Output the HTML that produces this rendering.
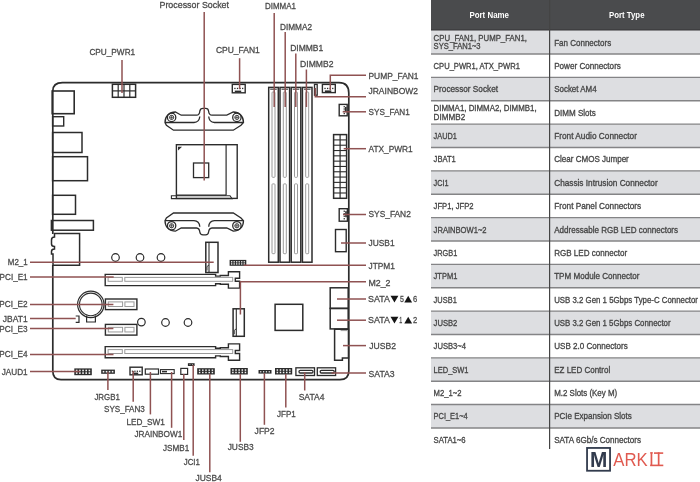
<!DOCTYPE html>
<html><head><meta charset="utf-8"><style>
html,body{margin:0;padding:0;background:#fff;}
body{width:700px;height:482px;overflow:hidden;}
svg{display:block;font-family:"Liberation Sans",sans-serif;will-change:transform;}
</style></head><body>
<svg width="700" height="482" viewBox="0 0 700 482">
<rect width="700" height="482" fill="#fff"/>
<rect x="431.0" y="0" width="269.0" height="30.65" fill="#4a4b4d"/>
<rect x="431.0" y="29.2" width="269.0" height="1.4" fill="#3d3d3f"/>
<rect x="431.0" y="30.65" width="269.0" height="23.37" fill="#dddee1"/>
<text x="433.6" y="40.68" font-size="8.9" fill="#464646" stroke="#464646" stroke-width="0.32" textLength="93.3" lengthAdjust="spacingAndGlyphs">CPU_FAN1, PUMP_FAN1,</text>
<text x="433.6" y="49.48" font-size="8.9" fill="#464646" stroke="#464646" stroke-width="0.32" textLength="47" lengthAdjust="spacingAndGlyphs">SYS_FAN1~3</text>
<text x="554.2" y="45.53" font-size="8.9" fill="#464646" stroke="#464646" stroke-width="0.32" textLength="57" lengthAdjust="spacingAndGlyphs">Fan Connectors</text>
<text x="433.6" y="68.91" font-size="8.9" fill="#464646" stroke="#464646" stroke-width="0.32" textLength="86.4" lengthAdjust="spacingAndGlyphs">CPU_PWR1, ATX_PWR1</text>
<text x="554.2" y="68.91" font-size="8.9" fill="#464646" stroke="#464646" stroke-width="0.32" textLength="66.7" lengthAdjust="spacingAndGlyphs">Power Connectors</text>
<rect x="431.0" y="77.39" width="269.0" height="23.37" fill="#dddee1"/>
<text x="433.6" y="92.28" font-size="8.9" fill="#464646" stroke="#464646" stroke-width="0.32" textLength="64.4" lengthAdjust="spacingAndGlyphs">Processor Socket</text>
<text x="554.2" y="92.28" font-size="8.9" fill="#464646" stroke="#464646" stroke-width="0.32" textLength="42.4" lengthAdjust="spacingAndGlyphs">Socket AM4</text>
<text x="433.6" y="110.79" font-size="8.9" fill="#464646" stroke="#464646" stroke-width="0.32" textLength="103" lengthAdjust="spacingAndGlyphs">DIMMA1, DIMMA2, DIMMB1,</text>
<text x="433.6" y="119.59" font-size="8.9" fill="#464646" stroke="#464646" stroke-width="0.32" textLength="31.6" lengthAdjust="spacingAndGlyphs">DIMMB2</text>
<text x="554.2" y="115.64" font-size="8.9" fill="#464646" stroke="#464646" stroke-width="0.32" textLength="41.6" lengthAdjust="spacingAndGlyphs">DIMM Slots</text>
<rect x="431.0" y="124.13" width="269.0" height="23.37" fill="#dddee1"/>
<text x="433.6" y="139.01" font-size="8.9" fill="#464646" stroke="#464646" stroke-width="0.32" textLength="23.3" lengthAdjust="spacingAndGlyphs">JAUD1</text>
<text x="554.2" y="139.01" font-size="8.9" fill="#464646" stroke="#464646" stroke-width="0.32" textLength="82.8" lengthAdjust="spacingAndGlyphs">Front Audio Connector</text>
<text x="433.6" y="162.38" font-size="8.9" fill="#464646" stroke="#464646" stroke-width="0.32" textLength="22.2" lengthAdjust="spacingAndGlyphs">JBAT1</text>
<text x="554.2" y="162.38" font-size="8.9" fill="#464646" stroke="#464646" stroke-width="0.32" textLength="74.6" lengthAdjust="spacingAndGlyphs">Clear CMOS Jumper</text>
<rect x="431.0" y="170.87" width="269.0" height="23.37" fill="#dddee1"/>
<text x="433.6" y="185.75" font-size="8.9" fill="#464646" stroke="#464646" stroke-width="0.32" textLength="15" lengthAdjust="spacingAndGlyphs">JCI1</text>
<text x="554.2" y="185.75" font-size="8.9" fill="#464646" stroke="#464646" stroke-width="0.32" textLength="103.5" lengthAdjust="spacingAndGlyphs">Chassis Intrusion Connector</text>
<text x="433.6" y="209.12" font-size="8.9" fill="#464646" stroke="#464646" stroke-width="0.32" textLength="39.9" lengthAdjust="spacingAndGlyphs">JFP1, JFP2</text>
<text x="554.2" y="209.12" font-size="8.9" fill="#464646" stroke="#464646" stroke-width="0.32" textLength="87" lengthAdjust="spacingAndGlyphs">Front Panel Connectors</text>
<rect x="431.0" y="217.61" width="269.0" height="23.37" fill="#dddee1"/>
<text x="433.6" y="232.50" font-size="8.9" fill="#464646" stroke="#464646" stroke-width="0.32" textLength="53" lengthAdjust="spacingAndGlyphs">JRAINBOW1~2</text>
<text x="554.2" y="232.50" font-size="8.9" fill="#464646" stroke="#464646" stroke-width="0.32" textLength="123.9" lengthAdjust="spacingAndGlyphs">Addressable RGB LED connectors</text>
<text x="433.6" y="255.87" font-size="8.9" fill="#464646" stroke="#464646" stroke-width="0.32" textLength="23.7" lengthAdjust="spacingAndGlyphs">JRGB1</text>
<text x="554.2" y="255.87" font-size="8.9" fill="#464646" stroke="#464646" stroke-width="0.32" textLength="72.9" lengthAdjust="spacingAndGlyphs">RGB LED connector</text>
<rect x="431.0" y="264.35" width="269.0" height="23.37" fill="#dddee1"/>
<text x="433.6" y="279.24" font-size="8.9" fill="#464646" stroke="#464646" stroke-width="0.32" textLength="23.7" lengthAdjust="spacingAndGlyphs">JTPM1</text>
<text x="554.2" y="279.24" font-size="8.9" fill="#464646" stroke="#464646" stroke-width="0.32" textLength="85.3" lengthAdjust="spacingAndGlyphs">TPM Module Connector</text>
<text x="433.6" y="302.60" font-size="8.9" fill="#464646" stroke="#464646" stroke-width="0.32" textLength="23.2" lengthAdjust="spacingAndGlyphs">JUSB1</text>
<text x="554.2" y="302.60" font-size="8.9" fill="#464646" stroke="#464646" stroke-width="0.32" textLength="143.8" lengthAdjust="spacingAndGlyphs">USB 3.2 Gen 1 5Gbps Type-C Connector</text>
<rect x="431.0" y="311.09" width="269.0" height="23.37" fill="#dddee1"/>
<text x="433.6" y="325.97" font-size="8.9" fill="#464646" stroke="#464646" stroke-width="0.32" textLength="23.7" lengthAdjust="spacingAndGlyphs">JUSB2</text>
<text x="554.2" y="325.97" font-size="8.9" fill="#464646" stroke="#464646" stroke-width="0.32" textLength="116.4" lengthAdjust="spacingAndGlyphs">USB 3.2 Gen 1 5Gbps Connector</text>
<text x="433.6" y="349.34" font-size="8.9" fill="#464646" stroke="#464646" stroke-width="0.32" textLength="32.4" lengthAdjust="spacingAndGlyphs">JUSB3~4</text>
<text x="554.2" y="349.34" font-size="8.9" fill="#464646" stroke="#464646" stroke-width="0.32" textLength="73.6" lengthAdjust="spacingAndGlyphs">USB 2.0 Connectors</text>
<rect x="431.0" y="357.83" width="269.0" height="23.37" fill="#dddee1"/>
<text x="433.6" y="372.71" font-size="8.9" fill="#464646" stroke="#464646" stroke-width="0.32" textLength="34.9" lengthAdjust="spacingAndGlyphs">LED_SW1</text>
<text x="554.2" y="372.71" font-size="8.9" fill="#464646" stroke="#464646" stroke-width="0.32" textLength="56" lengthAdjust="spacingAndGlyphs">EZ LED Control</text>
<text x="433.6" y="396.08" font-size="8.9" fill="#464646" stroke="#464646" stroke-width="0.32" textLength="27.9" lengthAdjust="spacingAndGlyphs">M2_1~2</text>
<text x="554.2" y="396.08" font-size="8.9" fill="#464646" stroke="#464646" stroke-width="0.32" textLength="63" lengthAdjust="spacingAndGlyphs">M.2 Slots (Key M)</text>
<rect x="431.0" y="404.57" width="269.0" height="23.37" fill="#dddee1"/>
<text x="433.6" y="419.45" font-size="8.9" fill="#464646" stroke="#464646" stroke-width="0.32" textLength="34.1" lengthAdjust="spacingAndGlyphs">PCI_E1~4</text>
<text x="554.2" y="419.45" font-size="8.9" fill="#464646" stroke="#464646" stroke-width="0.32" textLength="77.6" lengthAdjust="spacingAndGlyphs">PCIe Expansion Slots</text>
<text x="433.6" y="442.82" font-size="8.9" fill="#464646" stroke="#464646" stroke-width="0.32" textLength="32" lengthAdjust="spacingAndGlyphs">SATA1~6</text>
<text x="554.2" y="442.82" font-size="8.9" fill="#464646" stroke="#464646" stroke-width="0.32" textLength="86.9" lengthAdjust="spacingAndGlyphs">SATA 6Gb/s Connectors</text>
<line x1="431.0" y1="54.02" x2="700.0" y2="54.02" stroke="#848486" stroke-width="1.4"/>
<line x1="431.0" y1="77.39" x2="700.0" y2="77.39" stroke="#848486" stroke-width="1.4"/>
<line x1="431.0" y1="100.76" x2="700.0" y2="100.76" stroke="#848486" stroke-width="1.4"/>
<line x1="431.0" y1="124.13" x2="700.0" y2="124.13" stroke="#848486" stroke-width="1.4"/>
<line x1="431.0" y1="147.50" x2="700.0" y2="147.50" stroke="#848486" stroke-width="1.4"/>
<line x1="431.0" y1="170.87" x2="700.0" y2="170.87" stroke="#848486" stroke-width="1.4"/>
<line x1="431.0" y1="194.24" x2="700.0" y2="194.24" stroke="#848486" stroke-width="1.4"/>
<line x1="431.0" y1="217.61" x2="700.0" y2="217.61" stroke="#848486" stroke-width="1.4"/>
<line x1="431.0" y1="240.98" x2="700.0" y2="240.98" stroke="#848486" stroke-width="1.4"/>
<line x1="431.0" y1="264.35" x2="700.0" y2="264.35" stroke="#848486" stroke-width="1.4"/>
<line x1="431.0" y1="287.72" x2="700.0" y2="287.72" stroke="#848486" stroke-width="1.4"/>
<line x1="431.0" y1="311.09" x2="700.0" y2="311.09" stroke="#848486" stroke-width="1.4"/>
<line x1="431.0" y1="334.46" x2="700.0" y2="334.46" stroke="#848486" stroke-width="1.4"/>
<line x1="431.0" y1="357.83" x2="700.0" y2="357.83" stroke="#848486" stroke-width="1.4"/>
<line x1="431.0" y1="381.20" x2="700.0" y2="381.20" stroke="#848486" stroke-width="1.4"/>
<line x1="431.0" y1="404.57" x2="700.0" y2="404.57" stroke="#848486" stroke-width="1.4"/>
<line x1="431.0" y1="427.94" x2="700.0" y2="427.94" stroke="#848486" stroke-width="1.4"/>
<line x1="549.6" y1="0" x2="549.6" y2="448.9" stroke="#444" stroke-width="1.2"/>
<text x="469.4" y="17.7" font-size="9.4" font-weight="bold" fill="#fff" textLength="39.6" lengthAdjust="spacingAndGlyphs">Port Name</text>
<text x="609" y="17.7" font-size="9.4" font-weight="bold" fill="#fff" textLength="35.5" lengthAdjust="spacingAndGlyphs">Port Type</text>
<rect x="587.05" y="447.95" width="23" height="22.8" fill="none" stroke="#323b4d" stroke-width="1.8"/>
<text x="589.9" y="467.1" font-size="22" font-weight="bold" fill="#323b4d" textLength="17.3" lengthAdjust="spacingAndGlyphs">M</text>
<text x="613.3" y="465.6" font-size="18.5" fill="#e05a50" textLength="34.4" lengthAdjust="spacingAndGlyphs">ARK</text>
<g fill="#e05a50"><rect x="650.6" y="452.3" width="1.7" height="12.8"/><rect x="650.1" y="452.3" width="2.8" height="1.2"/><rect x="654" y="452.3" width="9.2" height="1.6"/><rect x="657.8" y="452.3" width="1.7" height="12.8"/><rect x="650.1" y="464.6" width="13.2" height="1.6"/></g>
<path d="M52.8,91 Q52.8,82.6 62.5,82.6 L339,82.6 Q348.8,82.6 348.8,93 L348.8,371 Q348.8,379.7 340,379.7 L61,379.7 Q52.8,379.7 52.8,371 L52.8,265" fill="none" stroke="#2c2c2c" stroke-width="1.7"/>
<line x1="52.8" y1="91" x2="52.8" y2="234" stroke="#2c2c2c" stroke-width="1.7"/>
<rect x="52.20" y="91.00" width="22.00" height="22.70" fill="none" stroke="#2c2c2c" stroke-width="1.6"/>
<rect x="52.60" y="116.70" width="11.10" height="9.30" fill="none" stroke="#2c2c2c" stroke-width="1.4"/>
<rect x="52.60" y="132.50" width="29.40" height="20.00" fill="none" stroke="#2c2c2c" stroke-width="1.5"/>
<rect x="52.60" y="156.70" width="34.90" height="24.00" fill="none" stroke="#2c2c2c" stroke-width="1.5"/>
<rect x="52.60" y="195.30" width="22.90" height="19.00" fill="none" stroke="#2c2c2c" stroke-width="1.5"/>
<rect x="51.40" y="220.50" width="42.00" height="9.70" fill="none" stroke="#2c2c2c" stroke-width="1.5"/>
<path d="M79.6,233.4 L54.5,233.4 L54.5,237 Q51.5,237 51.5,240 L51.5,244 Q51.5,246.5 54.5,246.5 L54.5,249 Q51.5,249 51.5,251.5 L51.5,254 L53,254 L53,265.3 L79.6,265.3 Z" fill="none" stroke="#2c2c2c" stroke-width="1.5"/>
<rect x="112.40" y="84.30" width="23.20" height="13.00" fill="none" stroke="#2c2c2c" stroke-width="1.5"/>
<line x1="118.2" y1="84.3" x2="118.2" y2="97.3" stroke="#2c2c2c" stroke-width="1.2"/>
<line x1="124.0" y1="84.3" x2="124.0" y2="97.3" stroke="#2c2c2c" stroke-width="1.2"/>
<line x1="129.8" y1="84.3" x2="129.8" y2="97.3" stroke="#2c2c2c" stroke-width="1.2"/>
<line x1="112.4" y1="90.9" x2="135.6" y2="90.9" stroke="#2c2c2c" stroke-width="1.2"/>
<g fill="none" stroke="#2c2c2c" stroke-width="1.3"><path d="M165,122.5 C165,116 169.5,112 175.4,112 L181.2,115.2 L196.5,115.2 Q199.5,115 199.8,111.2 Q200.2,108.4 203,108.4 L205.6,108.4 Q208.3,108.4 208.6,111.2 Q209,115 212,115.2 L226.8,115.2 L233.3,112 C239,112 243.5,116 243.5,122.5 L241,125.2 L233.3,130.2 L173.5,130.2 L166.4,125.2 Z M165,122.5 L194,122.5 Q199.3,122.3 199.8,116.5 M243.5,122.5 L214.4,122.5 Q209.2,122.3 208.7,116.5"/><circle cx="171.6" cy="117.4" r="4.2"/><circle cx="171.6" cy="117.4" r="2.1" stroke-width="0.9"/><path d="M169.5,117.4 H173.7 M171.6,115.3 V119.5" stroke-width="0.7"/><circle cx="236.9" cy="117.4" r="4.2"/><circle cx="236.9" cy="117.4" r="2.1" stroke-width="0.9"/><path d="M234.8,117.4 H239 M236.9,115.3 V119.5" stroke-width="0.7"/></g>
<g transform="translate(0,343.2) scale(1,-1)" fill="none" stroke="#2c2c2c" stroke-width="1.3"><path d="M165,122.5 C165,116 169.5,112 175.4,112 L181.2,115.2 L196.5,115.2 Q199.5,115 199.8,111.2 Q200.2,108.4 203,108.4 L205.6,108.4 Q208.3,108.4 208.6,111.2 Q209,115 212,115.2 L226.8,115.2 L233.3,112 C239,112 243.5,116 243.5,122.5 L241,125.2 L233.3,130.2 L173.5,130.2 L166.4,125.2 Z M165,122.5 L194,122.5 Q199.3,122.3 199.8,116.5 M243.5,122.5 L214.4,122.5 Q209.2,122.3 208.7,116.5"/><circle cx="171.6" cy="117.4" r="4.2"/><circle cx="171.6" cy="117.4" r="2.1" stroke-width="0.9"/><path d="M169.5,117.4 H173.7 M171.6,115.3 V119.5" stroke-width="0.7"/><circle cx="236.9" cy="117.4" r="4.2"/><circle cx="236.9" cy="117.4" r="2.1" stroke-width="0.9"/><path d="M234.8,117.4 H239 M236.9,115.3 V119.5" stroke-width="0.7"/></g>
<rect x="176.40" y="144.70" width="60.80" height="53.70" fill="none" stroke="#2c2c2c" stroke-width="1.4"/>
<line x1="226.1" y1="144.7" x2="226.1" y2="195.2" stroke="#2c2c2c" stroke-width="1.2"/>
<line x1="176.4" y1="195.2" x2="226.1" y2="195.2" stroke="#2c2c2c" stroke-width="1.2"/>
<path d="M171.4,195.8 L230,195.8 L232,198.6 L171.4,198.6 Z" fill="none" stroke="#2c2c2c" stroke-width="1.1"/>
<path d="M178,146.8 L182,146.8 L178,150.6 Z" fill="#2c2c2c"/>
<rect x="193.50" y="163.00" width="15.20" height="14.60" fill="none" stroke="#2c2c2c" stroke-width="1.3"/>
<rect x="232.30" y="84.40" width="12.90" height="8.40" fill="none" stroke="#2c2c2c" stroke-width="1.4"/>
<rect x="234.28" y="87.80" width="1.3" height="1.3" fill="#2c2c2c"/>
<rect x="236.86" y="87.80" width="1.3" height="1.3" fill="#2c2c2c"/>
<rect x="239.44" y="87.80" width="1.3" height="1.3" fill="#2c2c2c"/>
<rect x="242.02" y="87.80" width="1.3" height="1.3" fill="#2c2c2c"/>
<rect x="234.80" y="90.60" width="6.40" height="1.6" fill="#2c2c2c"/>
<rect x="322.40" y="84.40" width="12.90" height="8.20" fill="none" stroke="#2c2c2c" stroke-width="1.4"/>
<rect x="324.38" y="87.80" width="1.3" height="1.3" fill="#2c2c2c"/>
<rect x="326.96" y="87.80" width="1.3" height="1.3" fill="#2c2c2c"/>
<rect x="329.54" y="87.80" width="1.3" height="1.3" fill="#2c2c2c"/>
<rect x="332.12" y="87.80" width="1.3" height="1.3" fill="#2c2c2c"/>
<rect x="324.90" y="90.40" width="6.40" height="1.6" fill="#2c2c2c"/>
<rect x="339.20" y="104.40" width="8.00" height="11.40" fill="none" stroke="#2c2c2c" stroke-width="1.4"/>
<rect x="343.60" y="106.08" width="1.3" height="1.3" fill="#2c2c2c"/>
<rect x="343.60" y="108.36" width="1.3" height="1.3" fill="#2c2c2c"/>
<rect x="343.60" y="110.64" width="1.3" height="1.3" fill="#2c2c2c"/>
<rect x="343.60" y="112.92" width="1.3" height="1.3" fill="#2c2c2c"/>
<rect x="345.00" y="106.90" width="1.6" height="4.90" fill="#2c2c2c"/>
<rect x="339.20" y="208.70" width="8.20" height="12.50" fill="none" stroke="#2c2c2c" stroke-width="1.4"/>
<rect x="343.60" y="210.60" width="1.3" height="1.3" fill="#2c2c2c"/>
<rect x="343.60" y="213.10" width="1.3" height="1.3" fill="#2c2c2c"/>
<rect x="343.60" y="215.60" width="1.3" height="1.3" fill="#2c2c2c"/>
<rect x="343.60" y="218.10" width="1.3" height="1.3" fill="#2c2c2c"/>
<rect x="345.20" y="211.20" width="1.6" height="6.00" fill="#2c2c2c"/>
<rect x="314.50" y="84.40" width="2.70" height="10.80" fill="none" stroke="#2c2c2c" stroke-width="1.3"/>
<rect x="268.70" y="87.40" width="9.60" height="174.80" fill="none" stroke="#2c2c2c" stroke-width="1.5"/>
<rect x="272.00" y="92" width="3.00" height="85.3" rx="0.8" fill="none" stroke="#9a9a9a" stroke-width="1.0"/>
<rect x="272.00" y="183.9" width="3.00" height="69.8" rx="0.8" fill="none" stroke="#9a9a9a" stroke-width="1.0"/>
<line x1="270.2" y1="89.2" x2="276.8" y2="89.2" stroke="#2c2c2c" stroke-width="1.0"/>
<rect x="280.00" y="87.40" width="9.60" height="174.80" fill="none" stroke="#2c2c2c" stroke-width="1.5"/>
<rect x="283.30" y="92" width="3.00" height="85.3" rx="0.8" fill="none" stroke="#9a9a9a" stroke-width="1.0"/>
<rect x="283.30" y="183.9" width="3.00" height="69.8" rx="0.8" fill="none" stroke="#9a9a9a" stroke-width="1.0"/>
<line x1="281.5" y1="89.2" x2="288.1" y2="89.2" stroke="#2c2c2c" stroke-width="1.0"/>
<rect x="291.20" y="87.40" width="9.60" height="174.80" fill="none" stroke="#2c2c2c" stroke-width="1.5"/>
<rect x="294.50" y="92" width="3.00" height="85.3" rx="0.8" fill="none" stroke="#9a9a9a" stroke-width="1.0"/>
<rect x="294.50" y="183.9" width="3.00" height="69.8" rx="0.8" fill="none" stroke="#9a9a9a" stroke-width="1.0"/>
<line x1="292.7" y1="89.2" x2="299.3" y2="89.2" stroke="#2c2c2c" stroke-width="1.0"/>
<rect x="302.40" y="87.40" width="9.60" height="174.80" fill="none" stroke="#2c2c2c" stroke-width="1.5"/>
<rect x="305.70" y="92" width="3.00" height="85.3" rx="0.8" fill="none" stroke="#9a9a9a" stroke-width="1.0"/>
<rect x="305.70" y="183.9" width="3.00" height="69.8" rx="0.8" fill="none" stroke="#9a9a9a" stroke-width="1.0"/>
<line x1="303.9" y1="89.2" x2="310.5" y2="89.2" stroke="#2c2c2c" stroke-width="1.0"/>
<rect x="333.60" y="134.60" width="13.00" height="63.70" fill="none" stroke="#2c2c2c" stroke-width="1.5"/>
<line x1="340.1" y1="134.6" x2="340.1" y2="198.3" stroke="#2c2c2c" stroke-width="1.2"/>
<line x1="333.6" y1="139.90833333333333" x2="346.6" y2="139.90833333333333" stroke="#2c2c2c" stroke-width="1.1"/>
<line x1="333.6" y1="145.21666666666667" x2="346.6" y2="145.21666666666667" stroke="#2c2c2c" stroke-width="1.1"/>
<line x1="333.6" y1="150.525" x2="346.6" y2="150.525" stroke="#2c2c2c" stroke-width="1.1"/>
<line x1="333.6" y1="155.83333333333334" x2="346.6" y2="155.83333333333334" stroke="#2c2c2c" stroke-width="1.1"/>
<line x1="333.6" y1="161.14166666666668" x2="346.6" y2="161.14166666666668" stroke="#2c2c2c" stroke-width="1.1"/>
<line x1="333.6" y1="166.45" x2="346.6" y2="166.45" stroke="#2c2c2c" stroke-width="1.1"/>
<line x1="333.6" y1="171.75833333333333" x2="346.6" y2="171.75833333333333" stroke="#2c2c2c" stroke-width="1.1"/>
<line x1="333.6" y1="177.06666666666666" x2="346.6" y2="177.06666666666666" stroke="#2c2c2c" stroke-width="1.1"/>
<line x1="333.6" y1="182.375" x2="346.6" y2="182.375" stroke="#2c2c2c" stroke-width="1.1"/>
<line x1="333.6" y1="187.68333333333334" x2="346.6" y2="187.68333333333334" stroke="#2c2c2c" stroke-width="1.1"/>
<line x1="333.6" y1="192.99166666666667" x2="346.6" y2="192.99166666666667" stroke="#2c2c2c" stroke-width="1.1"/>
<rect x="335.50" y="229.50" width="10.70" height="22.20" fill="none" stroke="#2c2c2c" stroke-width="1.4"/>
<rect x="205.80" y="242.30" width="12.20" height="30.20" fill="none" stroke="#2c2c2c" stroke-width="1.5"/>
<line x1="209.0" y1="242.3" x2="209.0" y2="272.5" stroke="#2c2c2c" stroke-width="1.1"/>
<path d="M209.0,265.0 L207.0,266.5 L207.0,270.5" fill="none" stroke="#2c2c2c" stroke-width="0.9"/>
<rect x="233.10" y="308.80" width="11.20" height="27.50" fill="none" stroke="#2c2c2c" stroke-width="1.5"/>
<line x1="236.29999999999998" y1="308.8" x2="236.29999999999998" y2="336.3" stroke="#2c2c2c" stroke-width="1.1"/>
<path d="M236.29999999999998,328.8 L234.29999999999998,330.3 L234.29999999999998,334.3" fill="none" stroke="#2c2c2c" stroke-width="0.9"/>
<rect x="229.60" y="259.90" width="16.70" height="5.90" fill="#2c2c2c"/>
<rect x="230.99" y="261.11" width="1.33" height="1.33" fill="#f4f4f4"/>
<rect x="230.99" y="263.26" width="1.33" height="1.33" fill="#f4f4f4"/>
<rect x="233.51" y="261.11" width="1.33" height="1.33" fill="#f4f4f4"/>
<rect x="233.51" y="263.26" width="1.33" height="1.33" fill="#f4f4f4"/>
<rect x="236.03" y="261.11" width="1.33" height="1.33" fill="#f4f4f4"/>
<rect x="236.03" y="263.26" width="1.33" height="1.33" fill="#f4f4f4"/>
<rect x="238.54" y="261.11" width="1.33" height="1.33" fill="#f4f4f4"/>
<rect x="238.54" y="263.26" width="1.33" height="1.33" fill="#f4f4f4"/>
<rect x="241.06" y="261.11" width="1.33" height="1.33" fill="#f4f4f4"/>
<rect x="241.06" y="263.26" width="1.33" height="1.33" fill="#f4f4f4"/>
<rect x="243.58" y="261.11" width="1.33" height="1.33" fill="#f4f4f4"/>
<rect x="243.58" y="263.26" width="1.33" height="1.33" fill="#f4f4f4"/>
<path d="M105.2,274.4 L215.6,274.4 L215.6,276.1 L220.3,276.1 L220.3,275.5 L228.4,275.5 L228.4,271.7 L239.6,271.7 L239.6,278.3 L235.3,278.3 L235.3,281.3 L239.6,281.3 L239.6,288.1 L228.4,288.1 L228.4,284.3 L220.3,284.3 L220.3,283.7 L215.6,283.7 L215.6,285.6 L105.2,285.6 Z" fill="none" stroke="#2c2c2c" stroke-width="1.4"/>
<rect x="108.10" y="277.40" width="14.20" height="3.90" fill="none" stroke="#9a9a9a" stroke-width="1.0"/>
<rect x="124.80" y="277.40" width="107.90" height="3.90" fill="none" stroke="#9a9a9a" stroke-width="1.0"/>
<path d="M105.2,346.59999999999997 L215.6,346.59999999999997 L215.6,348.3 L220.3,348.3 L220.3,347.7 L228.4,347.7 L228.4,343.9 L239.6,343.9 L239.6,350.5 L235.3,350.5 L235.3,353.5 L239.6,353.5 L239.6,360.3 L228.4,360.3 L228.4,356.5 L220.3,356.5 L220.3,355.9 L215.6,355.9 L215.6,357.8 L105.2,357.8 Z" fill="none" stroke="#2c2c2c" stroke-width="1.4"/>
<rect x="108.10" y="349.60" width="14.20" height="3.90" fill="none" stroke="#9a9a9a" stroke-width="1.0"/>
<rect x="124.80" y="349.60" width="107.90" height="3.90" fill="none" stroke="#9a9a9a" stroke-width="1.0"/>
<rect x="105.40" y="299.00" width="31.50" height="10.60" fill="none" stroke="#2c2c2c" stroke-width="1.4"/>
<rect x="108.30" y="301.90" width="14.30" height="4.60" fill="none" stroke="#9a9a9a" stroke-width="1.0"/>
<rect x="124.90" y="301.90" width="9.10" height="4.60" fill="none" stroke="#9a9a9a" stroke-width="1.0"/>
<rect x="105.40" y="324.40" width="31.50" height="10.70" fill="none" stroke="#2c2c2c" stroke-width="1.4"/>
<rect x="108.30" y="327.35" width="14.30" height="4.60" fill="none" stroke="#9a9a9a" stroke-width="1.0"/>
<rect x="124.90" y="327.35" width="9.10" height="4.60" fill="none" stroke="#9a9a9a" stroke-width="1.0"/>
<circle cx="90.8" cy="304.4" r="13.2" fill="none" stroke="#2c2c2c" stroke-width="1.2"/>
<circle cx="90.8" cy="304.4" r="11.3" fill="none" stroke="#2c2c2c" stroke-width="1.1"/>
<path d="M86.6,315.5 L86.6,322 L95.4,322 L95.4,315.5" fill="none" stroke="#2c2c2c" stroke-width="1.2"/>
<path d="M75.7,316 L79,316 L79,322.4 L75.7,322.4" fill="none" stroke="#2c2c2c" stroke-width="1.2"/>
<circle cx="115.5" cy="257.5" r="3.8" fill="none" stroke="#2c2c2c" stroke-width="1.2"/>
<circle cx="140" cy="257.5" r="3.8" fill="none" stroke="#2c2c2c" stroke-width="1.2"/>
<circle cx="161" cy="257.5" r="3.8" fill="none" stroke="#2c2c2c" stroke-width="1.2"/>
<circle cx="165.5" cy="322.5" r="3.8" fill="none" stroke="#2c2c2c" stroke-width="1.2"/>
<circle cx="188" cy="322.5" r="3.8" fill="none" stroke="#2c2c2c" stroke-width="1.2"/>
<circle cx="141.4" cy="322.1" r="3.8" fill="none" stroke="#2c2c2c" stroke-width="1.2"/>
<rect x="275.10" y="304.30" width="27.70" height="26.10" fill="none" stroke="#2c2c2c" stroke-width="1.5"/>
<rect x="330.20" y="287.80" width="18.00" height="20.60" fill="none" stroke="#2c2c2c" stroke-width="1.5"/>
<rect x="330.20" y="308.40" width="18.00" height="20.50" fill="none" stroke="#2c2c2c" stroke-width="1.5"/>
<path d="M334.6,329.2 L348.5,329.2 L348.5,358 L342.4,358 L342.4,360.2 L334.6,360.2 Z" fill="none" stroke="#2c2c2c" stroke-width="1.5"/>
<line x1="340.6" y1="330.6" x2="347.5" y2="330.6" stroke="#9a9a9a" stroke-width="1.0"/>
<rect x="74.30" y="368.40" width="17.50" height="6.80" fill="#2c2c2c"/>
<rect x="75.88" y="369.69" width="1.61" height="1.61" fill="#f4f4f4"/>
<rect x="75.88" y="372.29" width="1.61" height="1.61" fill="#f4f4f4"/>
<rect x="79.06" y="369.69" width="1.61" height="1.61" fill="#f4f4f4"/>
<rect x="79.06" y="372.29" width="1.61" height="1.61" fill="#f4f4f4"/>
<rect x="82.24" y="369.69" width="1.61" height="1.61" fill="#f4f4f4"/>
<rect x="82.24" y="372.29" width="1.61" height="1.61" fill="#f4f4f4"/>
<rect x="85.42" y="369.69" width="1.61" height="1.61" fill="#f4f4f4"/>
<rect x="85.42" y="372.29" width="1.61" height="1.61" fill="#f4f4f4"/>
<rect x="88.60" y="369.69" width="1.61" height="1.61" fill="#f4f4f4"/>
<rect x="88.60" y="372.29" width="1.61" height="1.61" fill="#f4f4f4"/>
<rect x="101.20" y="369.60" width="13.70" height="4.20" fill="#2c2c2c"/>
<rect x="102.71" y="370.89" width="1.61" height="1.61" fill="#f4f4f4"/>
<rect x="105.73" y="370.89" width="1.61" height="1.61" fill="#f4f4f4"/>
<rect x="108.76" y="370.89" width="1.61" height="1.61" fill="#f4f4f4"/>
<rect x="111.78" y="370.89" width="1.61" height="1.61" fill="#f4f4f4"/>
<rect x="130.00" y="367.20" width="12.20" height="7.60" fill="none" stroke="#2c2c2c" stroke-width="1.4"/>
<rect x="131.84" y="370.60" width="1.3" height="1.3" fill="#2c2c2c"/>
<rect x="134.28" y="370.60" width="1.3" height="1.3" fill="#2c2c2c"/>
<rect x="136.72" y="370.60" width="1.3" height="1.3" fill="#2c2c2c"/>
<rect x="139.16" y="370.60" width="1.3" height="1.3" fill="#2c2c2c"/>
<rect x="132.50" y="372.60" width="5.70" height="1.6" fill="#2c2c2c"/>
<rect x="145.30" y="369.00" width="13.20" height="5.20" fill="none" stroke="#2c2c2c" stroke-width="1.2"/>
<rect x="160.50" y="369.60" width="13.70" height="4.00" fill="none" stroke="#2c2c2c" stroke-width="1.1"/>
<line x1="162" y1="371.6" x2="167" y2="371.6" stroke="#2c2c2c" stroke-width="1.6"/>
<rect x="180.80" y="368.40" width="6.80" height="6.00" fill="none" stroke="#2c2c2c" stroke-width="1.2"/>
<rect x="187.90" y="363.20" width="6.70" height="2.80" fill="#2c2c2c"/>
<rect x="189.60" y="364.23" width="0.74" height="0.74" fill="#f4f4f4"/>
<rect x="192.15" y="364.23" width="0.74" height="0.74" fill="#f4f4f4"/>
<rect x="197.20" y="368.20" width="17.60" height="6.30" fill="#2c2c2c"/>
<rect x="198.87" y="369.45" width="1.46" height="1.46" fill="#f4f4f4"/>
<rect x="198.87" y="371.80" width="1.46" height="1.46" fill="#f4f4f4"/>
<rect x="202.07" y="369.45" width="1.46" height="1.46" fill="#f4f4f4"/>
<rect x="202.07" y="371.80" width="1.46" height="1.46" fill="#f4f4f4"/>
<rect x="205.27" y="369.45" width="1.46" height="1.46" fill="#f4f4f4"/>
<rect x="205.27" y="371.80" width="1.46" height="1.46" fill="#f4f4f4"/>
<rect x="208.47" y="369.45" width="1.46" height="1.46" fill="#f4f4f4"/>
<rect x="208.47" y="371.80" width="1.46" height="1.46" fill="#f4f4f4"/>
<rect x="211.67" y="369.45" width="1.46" height="1.46" fill="#f4f4f4"/>
<rect x="211.67" y="371.80" width="1.46" height="1.46" fill="#f4f4f4"/>
<rect x="230.50" y="368.00" width="17.30" height="6.50" fill="#2c2c2c"/>
<rect x="232.11" y="369.27" width="1.52" height="1.52" fill="#f4f4f4"/>
<rect x="232.11" y="371.72" width="1.52" height="1.52" fill="#f4f4f4"/>
<rect x="235.25" y="369.27" width="1.52" height="1.52" fill="#f4f4f4"/>
<rect x="235.25" y="371.72" width="1.52" height="1.52" fill="#f4f4f4"/>
<rect x="238.39" y="369.27" width="1.52" height="1.52" fill="#f4f4f4"/>
<rect x="238.39" y="371.72" width="1.52" height="1.52" fill="#f4f4f4"/>
<rect x="241.53" y="369.27" width="1.52" height="1.52" fill="#f4f4f4"/>
<rect x="241.53" y="371.72" width="1.52" height="1.52" fill="#f4f4f4"/>
<rect x="244.67" y="369.27" width="1.52" height="1.52" fill="#f4f4f4"/>
<rect x="244.67" y="371.72" width="1.52" height="1.52" fill="#f4f4f4"/>
<rect x="258.50" y="370.00" width="13.00" height="3.60" fill="#2c2c2c"/>
<rect x="260.11" y="371.18" width="1.24" height="1.24" fill="#f4f4f4"/>
<rect x="262.95" y="371.18" width="1.24" height="1.24" fill="#f4f4f4"/>
<rect x="265.81" y="371.18" width="1.24" height="1.24" fill="#f4f4f4"/>
<rect x="268.66" y="371.18" width="1.24" height="1.24" fill="#f4f4f4"/>
<rect x="275.00" y="368.00" width="17.20" height="6.50" fill="#2c2c2c"/>
<rect x="276.60" y="369.27" width="1.52" height="1.52" fill="#f4f4f4"/>
<rect x="276.60" y="371.72" width="1.52" height="1.52" fill="#f4f4f4"/>
<rect x="279.72" y="369.27" width="1.52" height="1.52" fill="#f4f4f4"/>
<rect x="279.72" y="371.72" width="1.52" height="1.52" fill="#f4f4f4"/>
<rect x="282.84" y="369.27" width="1.52" height="1.52" fill="#f4f4f4"/>
<rect x="282.84" y="371.72" width="1.52" height="1.52" fill="#f4f4f4"/>
<rect x="285.96" y="369.27" width="1.52" height="1.52" fill="#f4f4f4"/>
<rect x="285.96" y="371.72" width="1.52" height="1.52" fill="#f4f4f4"/>
<rect x="289.08" y="369.27" width="1.52" height="1.52" fill="#f4f4f4"/>
<rect x="289.08" y="371.72" width="1.52" height="1.52" fill="#f4f4f4"/>
<rect x="295.90" y="367.80" width="18.60" height="7.70" fill="none" stroke="#2c2c2c" stroke-width="1.3"/>
<rect x="299" y="370.3" width="14" height="2.7" rx="1.2" fill="none" stroke="#2c2c2c" stroke-width="1.3"/>
<rect x="317.30" y="367.80" width="18.30" height="7.70" fill="none" stroke="#2c2c2c" stroke-width="1.3"/>
<rect x="320.2" y="370.3" width="14" height="2.7" rx="1.2" fill="none" stroke="#2c2c2c" stroke-width="1.3"/>
<line x1="122" y1="60" x2="122" y2="93" stroke="#8f5252" stroke-width="1.5"/>
<line x1="204.2" y1="12" x2="204.2" y2="180.4" stroke="#8f5252" stroke-width="1.5"/>
<line x1="239.6" y1="58.2" x2="239.6" y2="89.2" stroke="#8f5252" stroke-width="1.5"/>
<line x1="274.2" y1="13" x2="274.2" y2="107" stroke="#8f5252" stroke-width="1.5"/>
<line x1="285.2" y1="32" x2="285.2" y2="107" stroke="#8f5252" stroke-width="1.5"/>
<line x1="295.8" y1="53.5" x2="295.8" y2="107" stroke="#8f5252" stroke-width="1.5"/>
<line x1="306.4" y1="69.5" x2="306.4" y2="107" stroke="#8f5252" stroke-width="1.5"/>
<polyline points="330.3,90 330.3,75.3 366,75.3" fill="none" stroke="#8f5252" stroke-width="1.5"/>
<polyline points="315.3,88 315.3,96.7 366,96.7" fill="none" stroke="#8f5252" stroke-width="1.5"/>
<line x1="342.7" y1="111.8" x2="366" y2="111.8" stroke="#8f5252" stroke-width="1.5"/>
<line x1="343.7" y1="148.7" x2="366" y2="148.7" stroke="#8f5252" stroke-width="1.5"/>
<line x1="343" y1="214.5" x2="366" y2="214.5" stroke="#8f5252" stroke-width="1.5"/>
<line x1="341" y1="243" x2="366" y2="243" stroke="#8f5252" stroke-width="1.5"/>
<line x1="243.7" y1="265.3" x2="366" y2="265.3" stroke="#8f5252" stroke-width="1.5"/>
<polyline points="240.4,314.5 240.4,281.8 366,281.8" fill="none" stroke="#8f5252" stroke-width="1.5"/>
<line x1="337" y1="299" x2="366" y2="299" stroke="#8f5252" stroke-width="1.5"/>
<line x1="337" y1="320.2" x2="366" y2="320.2" stroke="#8f5252" stroke-width="1.5"/>
<line x1="343" y1="345.6" x2="366" y2="345.6" stroke="#8f5252" stroke-width="1.5"/>
<line x1="331.5" y1="373.1" x2="366" y2="373.1" stroke="#8f5252" stroke-width="1.5"/>
<line x1="30" y1="262.3" x2="213.7" y2="262.3" stroke="#8f5252" stroke-width="1.5"/>
<line x1="30" y1="277.1" x2="113.7" y2="277.1" stroke="#8f5252" stroke-width="1.5"/>
<line x1="30" y1="304.4" x2="113.4" y2="304.4" stroke="#8f5252" stroke-width="1.5"/>
<line x1="30" y1="318.5" x2="75.7" y2="318.5" stroke="#8f5252" stroke-width="1.5"/>
<line x1="30" y1="328.5" x2="113.4" y2="328.5" stroke="#8f5252" stroke-width="1.5"/>
<line x1="30" y1="354.5" x2="113.5" y2="354.5" stroke="#8f5252" stroke-width="1.5"/>
<line x1="30" y1="371.4" x2="80" y2="371.4" stroke="#8f5252" stroke-width="1.5"/>
<line x1="107.9" y1="372" x2="107.9" y2="390" stroke="#8f5252" stroke-width="1.5"/>
<line x1="133.2" y1="371" x2="133.2" y2="401.8" stroke="#8f5252" stroke-width="1.5"/>
<line x1="150.4" y1="372" x2="150.4" y2="414.4" stroke="#8f5252" stroke-width="1.5"/>
<line x1="171.6" y1="372" x2="171.6" y2="427.8" stroke="#8f5252" stroke-width="1.5"/>
<line x1="183.8" y1="374" x2="183.8" y2="440" stroke="#8f5252" stroke-width="1.5"/>
<line x1="193.2" y1="365" x2="193.2" y2="455.7" stroke="#8f5252" stroke-width="1.5"/>
<line x1="209.8" y1="374" x2="209.8" y2="472.2" stroke="#8f5252" stroke-width="1.5"/>
<line x1="240.3" y1="374" x2="240.3" y2="441.8" stroke="#8f5252" stroke-width="1.5"/>
<line x1="264.4" y1="373" x2="264.4" y2="424.8" stroke="#8f5252" stroke-width="1.5"/>
<line x1="285.8" y1="374" x2="285.8" y2="407.5" stroke="#8f5252" stroke-width="1.5"/>
<line x1="304.7" y1="372" x2="304.7" y2="390.5" stroke="#8f5252" stroke-width="1.5"/>
<text x="159.5" y="7.7" font-size="8.9" fill="#4a4a4a" stroke="#4a4a4a" stroke-width="0.28" font-weight="normal" text-anchor="start" textLength="69.5" lengthAdjust="spacingAndGlyphs">Processor Socket</text>
<text x="89.4" y="55.1" font-size="8.9" fill="#4a4a4a" stroke="#4a4a4a" stroke-width="0.28" font-weight="normal" text-anchor="start" textLength="45.8" lengthAdjust="spacingAndGlyphs">CPU_PWR1</text>
<text x="215.9" y="53.2" font-size="8.9" fill="#4a4a4a" stroke="#4a4a4a" stroke-width="0.28" font-weight="normal" text-anchor="start" textLength="43.9" lengthAdjust="spacingAndGlyphs">CPU_FAN1</text>
<text x="265" y="8.6" font-size="8.9" fill="#4a4a4a" stroke="#4a4a4a" stroke-width="0.28" font-weight="normal" text-anchor="start" textLength="31" lengthAdjust="spacingAndGlyphs">DIMMA1</text>
<text x="280" y="29.7" font-size="8.9" fill="#4a4a4a" stroke="#4a4a4a" stroke-width="0.28" font-weight="normal" text-anchor="start" textLength="32" lengthAdjust="spacingAndGlyphs">DIMMA2</text>
<text x="290.2" y="51.3" font-size="8.9" fill="#4a4a4a" stroke="#4a4a4a" stroke-width="0.28" font-weight="normal" text-anchor="start" textLength="33.1" lengthAdjust="spacingAndGlyphs">DIMMB1</text>
<text x="300.1" y="66.9" font-size="8.9" fill="#4a4a4a" stroke="#4a4a4a" stroke-width="0.28" font-weight="normal" text-anchor="start" textLength="33.4" lengthAdjust="spacingAndGlyphs">DIMMB2</text>
<text x="368.5" y="78.7" font-size="8.9" fill="#4a4a4a" stroke="#4a4a4a" stroke-width="0.28" font-weight="normal" text-anchor="start" textLength="50" lengthAdjust="spacingAndGlyphs">PUMP_FAN1</text>
<text x="368.5" y="93.9" font-size="8.9" fill="#4a4a4a" stroke="#4a4a4a" stroke-width="0.28" font-weight="normal" text-anchor="start" textLength="49.5" lengthAdjust="spacingAndGlyphs">JRAINBOW2</text>
<text x="368.5" y="114.6" font-size="8.9" fill="#4a4a4a" stroke="#4a4a4a" stroke-width="0.28" font-weight="normal" text-anchor="start" textLength="41.3" lengthAdjust="spacingAndGlyphs">SYS_FAN1</text>
<text x="368.5" y="152.1" font-size="8.9" fill="#4a4a4a" stroke="#4a4a4a" stroke-width="0.28" font-weight="normal" text-anchor="start" textLength="44.2" lengthAdjust="spacingAndGlyphs">ATX_PWR1</text>
<text x="368.5" y="217.1" font-size="8.9" fill="#4a4a4a" stroke="#4a4a4a" stroke-width="0.28" font-weight="normal" text-anchor="start" textLength="42.3" lengthAdjust="spacingAndGlyphs">SYS_FAN2</text>
<text x="368.5" y="246.1" font-size="8.9" fill="#4a4a4a" stroke="#4a4a4a" stroke-width="0.28" font-weight="normal" text-anchor="start" textLength="26.1" lengthAdjust="spacingAndGlyphs">JUSB1</text>
<text x="368.5" y="269.0" font-size="8.9" fill="#4a4a4a" stroke="#4a4a4a" stroke-width="0.28" font-weight="normal" text-anchor="start" textLength="26.5" lengthAdjust="spacingAndGlyphs">JTPM1</text>
<text x="368.5" y="285.8" font-size="8.9" fill="#4a4a4a" stroke="#4a4a4a" stroke-width="0.28" font-weight="normal" text-anchor="start" textLength="22" lengthAdjust="spacingAndGlyphs">M2_2</text>
<text x="368.1" y="302.4" font-size="8.9" fill="#4a4a4a" stroke="#4a4a4a" stroke-width="0.28" font-weight="normal" text-anchor="start" textLength="21.9" lengthAdjust="spacingAndGlyphs">SATA</text>
<polygon points="390.5,295.79999999999995 398.4,295.79999999999995 394.45,302.4" fill="#151515"/>
<text x="400.0" y="302.4" font-size="8.9" fill="#4a4a4a" stroke="#4a4a4a" stroke-width="0.28" font-weight="normal" text-anchor="start" textLength="3.9" lengthAdjust="spacingAndGlyphs">5</text>
<polygon points="404.3,302.4 412.1,302.4 408.2,295.79999999999995" fill="#151515"/>
<text x="412.9" y="302.4" font-size="8.9" fill="#4a4a4a" stroke="#4a4a4a" stroke-width="0.28" font-weight="normal" text-anchor="start" textLength="4.2" lengthAdjust="spacingAndGlyphs">6</text>
<text x="368.1" y="323.4" font-size="8.9" fill="#4a4a4a" stroke="#4a4a4a" stroke-width="0.28" font-weight="normal" text-anchor="start" textLength="21.9" lengthAdjust="spacingAndGlyphs">SATA</text>
<polygon points="390.5,316.79999999999995 398.4,316.79999999999995 394.45,323.4" fill="#151515"/>
<text x="399.3" y="323.4" font-size="8.9" fill="#4a4a4a" stroke="#4a4a4a" stroke-width="0.28" font-weight="normal" text-anchor="start" textLength="3.0" lengthAdjust="spacingAndGlyphs">1</text>
<polygon points="404.3,323.4 412.1,323.4 408.2,316.79999999999995" fill="#151515"/>
<text x="412.9" y="323.4" font-size="8.9" fill="#4a4a4a" stroke="#4a4a4a" stroke-width="0.28" font-weight="normal" text-anchor="start" textLength="4.2" lengthAdjust="spacingAndGlyphs">2</text>
<text x="369.3" y="348.9" font-size="8.9" fill="#4a4a4a" stroke="#4a4a4a" stroke-width="0.28" font-weight="normal" text-anchor="start" textLength="26.8" lengthAdjust="spacingAndGlyphs">JUSB2</text>
<text x="368.5" y="376.7" font-size="8.9" fill="#4a4a4a" stroke="#4a4a4a" stroke-width="0.28" font-weight="normal" text-anchor="start" textLength="26.1" lengthAdjust="spacingAndGlyphs">SATA3</text>
<text x="27.6" y="265.4" font-size="8.9" fill="#4a4a4a" stroke="#4a4a4a" stroke-width="0.28" font-weight="normal" text-anchor="end" textLength="19.8" lengthAdjust="spacingAndGlyphs">M2_1</text>
<text x="27.6" y="280.1" font-size="8.9" fill="#4a4a4a" stroke="#4a4a4a" stroke-width="0.28" font-weight="normal" text-anchor="end" textLength="28" lengthAdjust="spacingAndGlyphs">PCI_E1</text>
<text x="27.6" y="307.3" font-size="8.9" fill="#4a4a4a" stroke="#4a4a4a" stroke-width="0.28" font-weight="normal" text-anchor="end" textLength="28.3" lengthAdjust="spacingAndGlyphs">PCI_E2</text>
<text x="27.6" y="321.5" font-size="8.9" fill="#4a4a4a" stroke="#4a4a4a" stroke-width="0.28" font-weight="normal" text-anchor="end" textLength="24.8" lengthAdjust="spacingAndGlyphs">JBAT1</text>
<text x="27.6" y="332.4" font-size="8.9" fill="#4a4a4a" stroke="#4a4a4a" stroke-width="0.28" font-weight="normal" text-anchor="end" textLength="28.3" lengthAdjust="spacingAndGlyphs">PCI_E3</text>
<text x="27.6" y="357.1" font-size="8.9" fill="#4a4a4a" stroke="#4a4a4a" stroke-width="0.28" font-weight="normal" text-anchor="end" textLength="28.3" lengthAdjust="spacingAndGlyphs">PCI_E4</text>
<text x="27.6" y="374.6" font-size="8.9" fill="#4a4a4a" stroke="#4a4a4a" stroke-width="0.28" font-weight="normal" text-anchor="end" textLength="25.9" lengthAdjust="spacingAndGlyphs">JAUD1</text>
<text x="94.4" y="399.7" font-size="8.9" fill="#4a4a4a" stroke="#4a4a4a" stroke-width="0.28" font-weight="normal" text-anchor="start" textLength="25.5" lengthAdjust="spacingAndGlyphs">JRGB1</text>
<text x="104" y="411.5" font-size="8.9" fill="#4a4a4a" stroke="#4a4a4a" stroke-width="0.28" font-weight="normal" text-anchor="start" textLength="40.8" lengthAdjust="spacingAndGlyphs">SYS_FAN3</text>
<text x="126.4" y="424.9" font-size="8.9" fill="#4a4a4a" stroke="#4a4a4a" stroke-width="0.28" font-weight="normal" text-anchor="start" textLength="38.4" lengthAdjust="spacingAndGlyphs">LED_SW1</text>
<text x="134.4" y="437.4" font-size="8.9" fill="#4a4a4a" stroke="#4a4a4a" stroke-width="0.28" font-weight="normal" text-anchor="start" textLength="47.9" lengthAdjust="spacingAndGlyphs">JRAINBOW1</text>
<text x="163" y="450.5" font-size="8.9" fill="#4a4a4a" stroke="#4a4a4a" stroke-width="0.28" font-weight="normal" text-anchor="start" textLength="26.2" lengthAdjust="spacingAndGlyphs">JSMB1</text>
<text x="183.7" y="464.6" font-size="8.9" fill="#4a4a4a" stroke="#4a4a4a" stroke-width="0.28" font-weight="normal" text-anchor="start" textLength="16.2" lengthAdjust="spacingAndGlyphs">JCI1</text>
<text x="195.5" y="481.4" font-size="8.9" fill="#4a4a4a" stroke="#4a4a4a" stroke-width="0.28" font-weight="normal" text-anchor="start" textLength="26.3" lengthAdjust="spacingAndGlyphs">JUSB4</text>
<text x="227.7" y="450.0" font-size="8.9" fill="#4a4a4a" stroke="#4a4a4a" stroke-width="0.28" font-weight="normal" text-anchor="start" textLength="26" lengthAdjust="spacingAndGlyphs">JUSB3</text>
<text x="254.6" y="434.1" font-size="8.9" fill="#4a4a4a" stroke="#4a4a4a" stroke-width="0.28" font-weight="normal" text-anchor="start" textLength="20" lengthAdjust="spacingAndGlyphs">JFP2</text>
<text x="277.1" y="416.5" font-size="8.9" fill="#4a4a4a" stroke="#4a4a4a" stroke-width="0.28" font-weight="normal" text-anchor="start" textLength="18.7" lengthAdjust="spacingAndGlyphs">JFP1</text>
<text x="298.7" y="400.2" font-size="8.9" fill="#4a4a4a" stroke="#4a4a4a" stroke-width="0.28" font-weight="normal" text-anchor="start" textLength="25.7" lengthAdjust="spacingAndGlyphs">SATA4</text>
</svg>
</body></html>
